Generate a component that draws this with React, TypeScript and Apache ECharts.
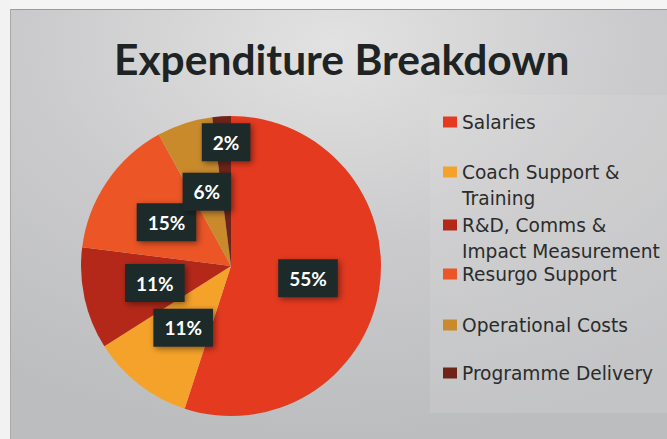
import React, { useEffect, useRef } from "react";
import * as echarts from "echarts";

const categories = [
  "Salaries",
  "Coach Support & Training",
  "R&D, Comms & Impact Measurement",
  "Resurgo Support",
  "Operational Costs",
  "Programme Delivery",
];
const values = [55, 11, 11, 15, 6, 2];
const legendText = [
  "Salaries",
  "\nCoach Support &\nTraining",
  "\nR&D, Comms &\nImpact Measurement",
  "Resurgo Support",
  "Operational Costs",
  "Programme Delivery",
];
const colors = ["#e43a20", "#f4a22a", "#b42819", "#ec5526", "#c98a2c", "#6e2418"];
const legendTops = [109, 133, 186, 261, 312, 360];

export default function App() {
  const ref = useRef<HTMLDivElement>(null);
  useEffect(() => {
    document.body.style.margin = "0";
    const chart = echarts.init(ref.current!, null, { renderer: "svg" });
    chart.setOption({
      animation: false,
      backgroundColor: {
        type: "radial",
        x: 0.5,
        y: 0.1,
        r: 0.9,
        colorStops: [
          { offset: 0, color: "#e2e2e2" },
          { offset: 0.5, color: "#cbcbcd" },
          { offset: 1, color: "#bcbdbf" },
        ],
      },
      title: {
        text: "Expenditure Breakdown",
        left: 109,
        top: 32,
        textStyle: {
          fontFamily: "Lato",
          fontWeight: "bold",
          fontSize: 42.5,
          color: "#1e2323",
        },
      },
      graphic: [
        { type: "rect", shape: { x: 0, y: 0, width: 667, height: 9 }, style: { fill: "#f4f4f4" } },
        { type: "line", shape: { x1: 10, y1: 9.5, x2: 667, y2: 9.5 }, style: { stroke: "#9a9a9a", lineWidth: 1 } },
        { type: "rect", shape: { x: 0, y: 0, width: 10, height: 439 }, style: { fill: "#f2f2f2" } },
        { type: "line", shape: { x1: 10.5, y1: 9, x2: 10.5, y2: 439 }, style: { stroke: "#a8a8a8", lineWidth: 1 } },
        {
          type: "rect",
          z: -1,
          shape: { x: 430, y: 95, width: 237, height: 318 },
          style: { fill: "rgba(225,225,225,0.2)" },
        },
      ],
      legend: categories.map((name, i) => ({
        data: [name],
        orient: "vertical",
        left: 443,
        top: legendTops[i],
        padding: 0,
        itemWidth: 14,
        itemHeight: 11,
        itemGap: 6,
        icon: "rect",
        formatter: () => legendText[i],
        textStyle: {
          fontFamily: "DejaVu Sans",
          fontSize: 18.6,
          lineHeight: 26,
          color: "#2a2c2c",
        },
      })),
      series: [
        {
          type: "pie",
          center: [231, 266],
          radius: 150,
          startAngle: 90,
          clockwise: true,
          avoidLabelOverlap: false,
          data: categories.map((name, i) => ({
            name,
            value: values[i],
            itemStyle: { color: colors[i] },
          })),
          label: {
            show: true,
            position: "inside",
            formatter: "{c}%",
            fontFamily: "Lato",
            fontWeight: "bold",
            fontSize: 19,
            color: "#ffffff",
            backgroundColor: "#1f2a2b",
            padding: [10, 11, 9, 11],
            shadowBlur: 6,
            shadowColor: "rgba(0,0,0,0.45)",
            shadowOffsetX: 2,
            shadowOffsetY: 2,
          },
          labelLayout: (params: any) =>
            params.dataIndex === 5 ? { dy: -46 } : {},
          labelLine: { show: false },
          emphasis: { disabled: true },
        },
      ],
    });
    return () => chart.dispose();
  }, []);
  return <div ref={ref} style={{ width: 667, height: 439 }} />;
}
